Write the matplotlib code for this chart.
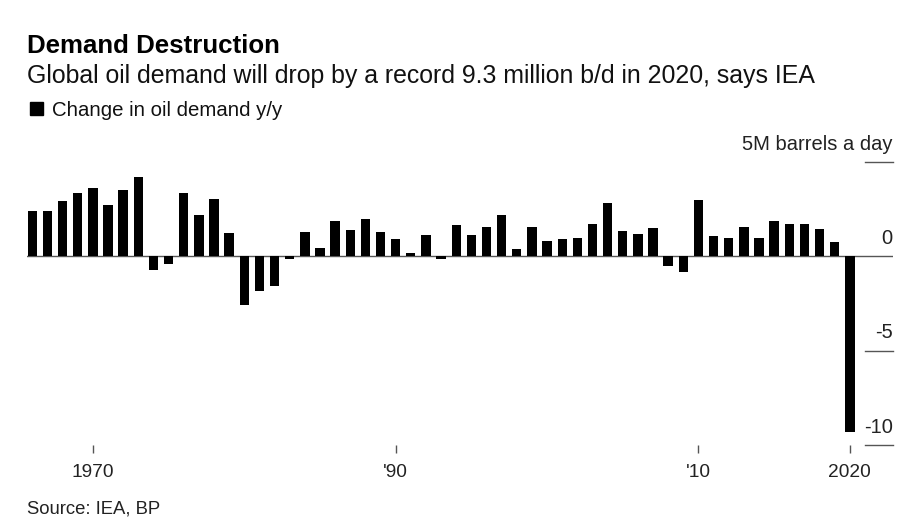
import matplotlib
matplotlib.use('Agg')
import matplotlib.pyplot as plt
import matplotlib.transforms as mtransforms
from matplotlib.patches import Rectangle

years = list(range(1966, 2021))
change = [2.40, 2.40, 2.93, 3.37, 3.60, 2.70, 3.53, 4.22, -0.72, -0.42,
          3.37, 2.17, 3.02, 1.22, -2.59, -1.85, -1.55, -0.12, 1.29, 0.46,
          1.87, 1.38, 1.96, 1.29, 0.90, 0.16, 1.13, -0.12, 1.66, 1.13,
          1.57, 2.19, 0.41, 1.57, 0.83, 0.90, 0.97, 1.72, 2.84, 1.36,
          1.20, 1.50, -0.53, -0.83, 3.00, 1.06, 0.97, 1.57, 0.97, 1.87,
          1.71, 1.71, 1.43, 0.76, -9.3]

xticks = [1970, 1990, 2010, 2020]
xlabels = ['1970', "'90", "'10", '2020']
yticks = [5, 0, -5, -10]
ylabels = ['5M barrels a day', '0', '-5', '-10']

plt.rcParams['font.family'] = ['Liberation Sans', 'DejaVu Sans']

fig = plt.figure(figsize=(9.2, 5.31), dpi=100)
ax = fig.add_axes([27 / 920, 86 / 531, (892.7 - 27) / 920, 283 / 531])

ax.bar(years, change, width=0.62, color='black', zorder=3)
ax.set_xlim(1965.65, 2022.83)
ax.set_ylim(-10, 5)

for s in ax.spines.values():
    s.set_visible(False)

# zero baseline across the plot, short tick lines on the right
ax.axhline(0, color='#555555', lw=1.0, zorder=2)
for v in yticks:
    if v != 0:
        ax.axhline(v, xmin=0.968, xmax=1.0, color='#555555', lw=1.0,
                   clip_on=False)

trans = mtransforms.blended_transform_factory(ax.transAxes, ax.transData)
off = mtransforms.ScaledTranslation(0, 6 / 72, fig.dpi_scale_trans)
for v, lab in zip(yticks, ylabels):
    ax.text(1.0, v, lab, transform=trans + off, ha='right', va='bottom',
            fontsize=14.5, color='#222222')

ax.set_yticks([])
ax.set_xticks(xticks)
ax.set_xticklabels(xlabels, fontsize=13.8, color='#222222')
ax.tick_params(axis='x', length=6, width=1, color='#555555', pad=8)

fig.text(27, 531 - 53, 'Demand Destruction', transform=None,
         fontsize=18.6, fontweight='bold', color='black')
fig.text(27, 531 - 83,
         'Global oil demand will drop by a record 9.3 million b/d in 2020, says IEA',
         transform=None, fontsize=17.9, color='#111111')
fig.patches.append(Rectangle((30, 531 - 115), 13, 13, transform=None,
                             color='black', figure=fig))
fig.text(52, 531 - 116, 'Change in oil demand y/y', transform=None,
         fontsize=14.7, color='#111111')
fig.text(27, 531 - 513, 'Source: IEA, BP', transform=None,
         fontsize=13.3, color='#222222')

fig.savefig('out.png', dpi=100)
